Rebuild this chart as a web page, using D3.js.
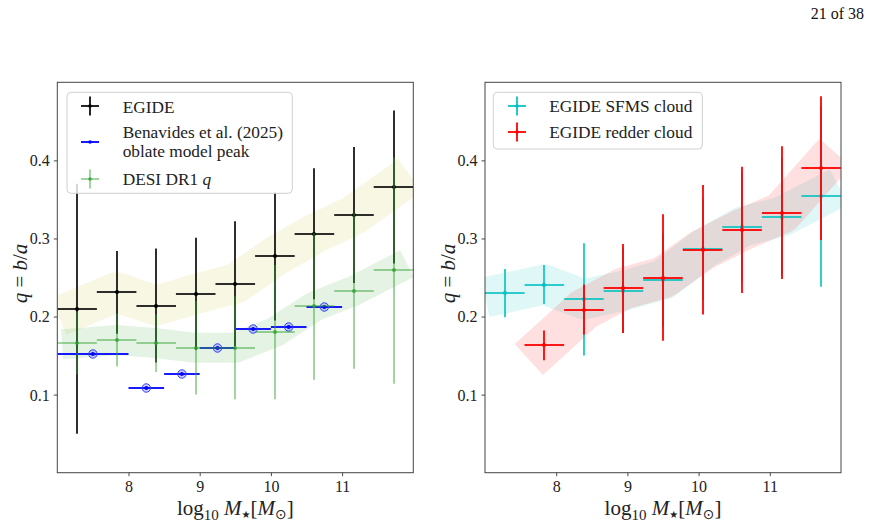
<!DOCTYPE html>
<html><head><meta charset="utf-8">
<script src="https://cdn.jsdelivr.net/npm/d3@7"></script>
<style>
html,body{margin:0;padding:0;background:#fff;}
svg text{font-family:"Liberation Serif","DejaVu Serif",serif;fill:#222;}
</style></head>
<body>
<svg id="c" width="872" height="525"></svg>
<script>
// ---------------- data ----------------
const xLimits = [7, 12];
const yLimits = [0, 0.5];
const xTicks = [8, 9, 10, 11];
const yTicks = [0.1, 0.2, 0.3, 0.4];

const binCenters = [7.278, 7.833, 8.389, 8.944, 9.5, 10.056, 10.611, 11.167, 11.722];
const binHalfWidth = [0.278, 0.278, 0.278, 0.278, 0.278, 0.278, 0.278, 0.278, 0.278];

const egideQ   = [0.210, 0.231, 0.214, 0.229, 0.242, 0.277, 0.306, 0.330, 0.366];
const egideErr = [0.160, 0.053, 0.073, 0.072, 0.080, 0.082, 0.084, 0.087, 0.098];

const desiQ    = [0.166, 0.170, 0.166, 0.160, 0.160, 0.180, 0.213, 0.233, 0.259];
const desiErr  = [0.040, 0.034, 0.037, 0.060, 0.066, 0.086, 0.094, 0.100, 0.145];

const benX    = [7.5, 8.25, 8.75, 9.25, 9.75, 10.25, 10.75];
const benXErr = [0.5, 0.25, 0.25, 0.25, 0.25, 0.25, 0.25];
const benQ    = [0.152, 0.108, 0.127, 0.160, 0.184, 0.187, 0.212];

const sfmsQ   = [0.230, 0.241, 0.222, 0.233, 0.247, 0.286, 0.315, 0.328, 0.354];
const sfmsErr = [0.031, 0.025, 0.072, 0.054, 0.060, 0.065, 0.070, 0.075, 0.116];

const redX    = binCenters.slice(1);
const redXErr = binHalfWidth.slice(1);
const redQ    = [0.163, 0.209, 0.236, 0.250, 0.2855, 0.311, 0.333, 0.390];
const redErr  = [0.019, 0.032, 0.057, 0.081, 0.083, 0.081, 0.085, 0.092];

const leftLegend  = ["EGIDE", "Benavides et al. (2025)", "oblate model peak", "DESI DR1 "];
const rightLegend = ["EGIDE SFMS cloud", "EGIDE redder cloud"];
const pageLabel = "21 of 38";

// ---------------- layout ----------------
const FONT = '"Liberation Serif","DejaVu Serif",serif';
const svg = d3.select("#c");
const yTop = 82.3, yBot = 472.7;
const panels = [
  {x0: 57.3, x1: 413.3},
  {x0: 485, x1: 841}
];
const y = d3.scaleLinear(yLimits, [yBot, yTop]);
const snap = v => Math.round(v);   // pixel snapping for 2px error-bar lines

svg.append("text").attr("x", 864).attr("y", 18.5).attr("text-anchor", "end")
  .style("font-size", "16px").style("fill", "#111").text(pageLabel);

function makePanel(p, idx) {
  const x = d3.scaleLinear(xLimits, [p.x0, p.x1]);
  const g = svg.append("g");
  const clipId = "clip" + idx;
  g.append("clipPath").attr("id", clipId).append("rect")
    .attr("x", p.x0).attr("y", yTop).attr("width", p.x1 - p.x0).attr("height", yBot - yTop);
  const plot = g.append("g").attr("clip-path", `url(#${clipId})`);

  const ax = g.append("g").attr("transform", `translate(0,${yBot})`)
    .call(d3.axisBottom(x).tickValues(xTicks).tickFormat(d3.format("d")).tickSize(3.5).tickPadding(4));
  const ay = g.append("g").attr("transform", `translate(${p.x0},0)`)
    .call(d3.axisLeft(y).tickValues(yTicks).tickFormat(d3.format(".1f")).tickSize(3.5).tickPadding(4));
  [ax, ay].forEach(a => {
    a.attr("font-family", FONT).attr("font-size", 16);
    a.select(".domain").remove();
    a.selectAll("line").attr("stroke", "#333").attr("stroke-width", 0.9);
    a.selectAll("text").style("font-size", "16px").attr("fill", "#222").style("font-family", FONT);
  });
  ax.selectAll("text").attr("dy", "0.71em");
  ay.selectAll("text").attr("dy", "0.34em");
  g.append("rect").attr("x", p.x0).attr("y", yTop).attr("width", p.x1 - p.x0).attr("height", yBot - yTop)
    .attr("fill", "none").attr("stroke", "#444").attr("stroke-width", 1);

  const xl = g.append("text").attr("x", (p.x0 + p.x1) / 2).attr("y", 515)
    .attr("text-anchor", "middle").style("font-size", "21px");
  xl.append("tspan").text("log");
  xl.append("tspan").attr("dy", 5).style("font-size", "15px").text("10");
  xl.append("tspan").attr("dy", -5).text(" ");
  xl.append("tspan").style("font-style", "italic").text("M");
  xl.append("tspan").attr("dy", 3).style("font-size", "10px").style("font-family", '"DejaVu Sans",sans-serif').text("★");
  xl.append("tspan").attr("dy", -3).text("[");
  xl.append("tspan").style("font-style", "italic").text("M");
  xl.append("tspan").attr("dy", 4).style("font-size", "14px").style("font-family", '"DejaVu Sans",sans-serif').text("⊙");
  xl.append("tspan").attr("dy", -4).text("]");

  const yl = g.append("text")
    .attr("transform", `translate(${p.x0 - 30},${(yTop + yBot) / 2 - 4}) rotate(-90)`)
    .attr("text-anchor", "middle").style("font-size", "21px");
  yl.append("tspan").style("font-style", "italic").text("q");
  yl.append("tspan").text(" = ");
  yl.append("tspan").style("font-style", "italic").text("b");
  yl.append("tspan").text("/");
  yl.append("tspan").style("font-style", "italic").text("a");

  return {x, g, plot};
}

function band(plot, x, xs, ys, color, width, opacity) {
  const line = d3.line().x((d, i) => x(xs[i])).y(d => y(d));
  plot.append("path").attr("d", line(ys)).attr("fill", "none")
    .attr("stroke", color).attr("stroke-width", width).attr("stroke-opacity", opacity)
    .attr("stroke-linecap", "square").attr("stroke-linejoin", "round");
}

function errorbars(plot, x, xs, ys, xerr, yerr, color, lineOpacity, dotR) {
  const gg = plot.append("g");
  xs.forEach((xv, i) => {
    const yv = ys[i];
    if (xerr) gg.append("line").attr("x1", x(xv - xerr[i])).attr("x2", x(xv + xerr[i]))
      .attr("y1", snap(y(yv))).attr("y2", snap(y(yv))).attr("stroke", color).attr("stroke-width", 2)
      .attr("stroke-opacity", lineOpacity);
    if (yerr) gg.append("line").attr("x1", snap(x(xv))).attr("x2", snap(x(xv)))
      .attr("y1", y(yv - yerr[i])).attr("y2", y(yv + yerr[i])).attr("stroke", color).attr("stroke-width", 2)
      .attr("stroke-opacity", lineOpacity);
  });
  xs.forEach((xv, i) => {
    gg.append("circle").attr("cx", snap(x(xv))).attr("cy", snap(y(ys[i]))).attr("r", dotR).attr("fill", color)
      .attr("fill-opacity", Math.min(1, lineOpacity + 0.3));
  });
  return gg;
}

// ---------------- left panel ----------------
const L = makePanel(panels[0], 0);
band(L.plot, L.x, binCenters, egideQ, "#bcbd22", 40, 0.12);
band(L.plot, L.x, binCenters, desiQ, "#2ca02c", 30, 0.13);
errorbars(L.plot, L.x, binCenters, egideQ, binHalfWidth, egideErr, "#000", 0.82, 2);
const bg = L.plot.append("g");
benX.forEach((xv, i) => {
  bg.append("line").attr("x1", L.x(xv - benXErr[i])).attr("x2", L.x(xv + benXErr[i]))
    .attr("y1", snap(y(benQ[i]))).attr("y2", snap(y(benQ[i]))).attr("stroke", "#0000ff").attr("stroke-width", 2)
    .attr("stroke-opacity", 0.9);
});
benX.forEach((xv, i) => {
  bg.append("circle").attr("cx", L.x(xv)).attr("cy", snap(y(benQ[i]))).attr("r", 4.2)
    .attr("fill", "rgba(0,0,255,0.18)").attr("stroke", "#2a3cff").attr("stroke-width", 1);
  bg.append("circle").attr("cx", L.x(xv)).attr("cy", snap(y(benQ[i]))).attr("r", 2).attr("fill", "#0000ff");
});
errorbars(L.plot, L.x, binCenters, desiQ, binHalfWidth, desiErr, "#2ca02c", 0.45, 2);

function legendBox(x0, y0, w, h) {
  svg.append("rect").attr("x", x0).attr("y", y0).attr("width", w).attr("height", h).attr("rx", 4)
    .attr("fill", "#fff").attr("fill-opacity", 0.8).attr("stroke", "#d0d0d0").attr("stroke-width", 1);
}
function crossHandle(cx, cy, color, op, vert) {
  svg.append("line").attr("x1", cx - 9).attr("x2", cx + 9).attr("y1", cy).attr("y2", cy)
    .attr("stroke", color).attr("stroke-width", 2).attr("stroke-opacity", op);
  if (vert) svg.append("line").attr("x1", cx).attr("x2", cx).attr("y1", cy - 9.5).attr("y2", cy + 9.5)
    .attr("stroke", color).attr("stroke-width", 2).attr("stroke-opacity", op);
  svg.append("circle").attr("cx", cx).attr("cy", cy).attr("r", 1.8).attr("fill", color)
    .attr("fill-opacity", Math.min(1, op + 0.3));
}
function legText(x0, yb, txt) {
  return svg.append("text").attr("x", x0).attr("y", yb).style("font-size", "17.3px").text(txt);
}
legendBox(67, 92.3, 225.3, 101);
crossHandle(90, 106, "#000", 0.85, true);
legText(122.7, 112.6, leftLegend[0]);
crossHandle(90, 142, "#0000ff", 0.9, false);
legText(122.7, 137.8, leftLegend[1]);
legText(122.7, 157.3, leftLegend[2]);
crossHandle(90, 179, "#2ca02c", 0.45, true);
const dt = legText(122.7, 184.8, leftLegend[3]);
dt.append("tspan").style("font-style", "italic").text("q");

// ---------------- right panel ----------------
const R = makePanel(panels[1], 1);
band(R.plot, R.x, binCenters, sfmsQ, "#00bfbf", 40, 0.12);
band(R.plot, R.x, redX, redQ, "#ff0000", 42, 0.12);
errorbars(R.plot, R.x, binCenters, sfmsQ, binHalfWidth, sfmsErr, "#00bfbf", 0.8, 2);
errorbars(R.plot, R.x, redX, redQ, redXErr, redErr, "#ff0000", 0.9, 2);

legendBox(493.3, 92.3, 209, 56.7);
crossHandle(517, 106, "#00bfbf", 0.85, true);
legText(549.3, 112.3, rightLegend[0]);
crossHandle(517, 132, "#ff0000", 0.9, true);
legText(549.3, 137.8, rightLegend[1]);
</script>
</body></html>
